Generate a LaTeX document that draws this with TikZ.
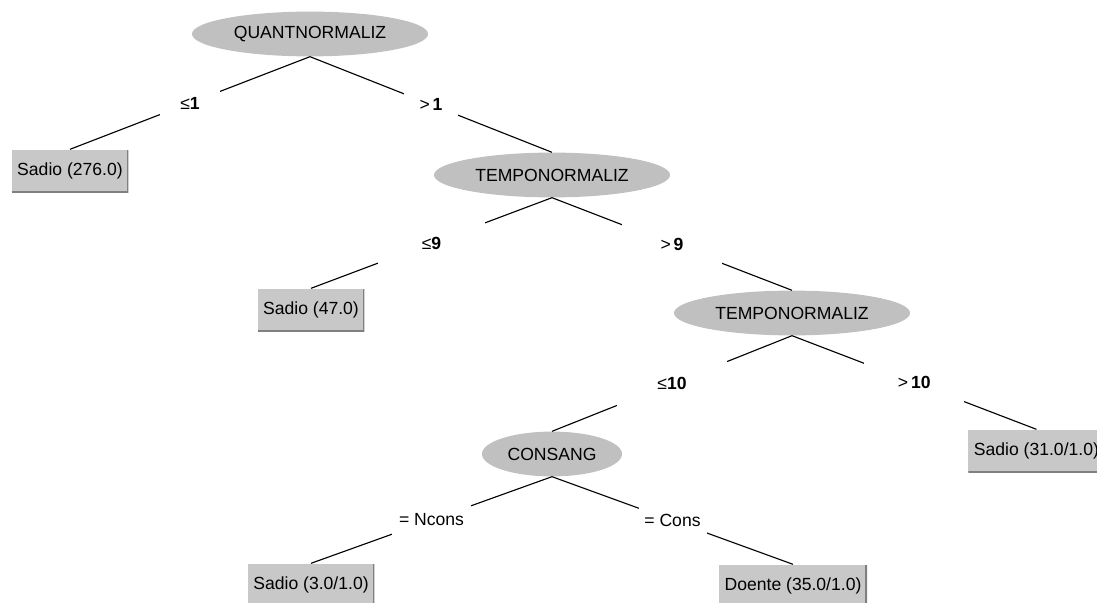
\documentclass[tikz,border=0pt]{standalone}
\usepackage{fontspec}
\setmainfont{Liberation Sans}
\usetikzlibrary{shapes.geometric}
\definecolor{splitgray}{RGB}{192,192,192}
\definecolor{leafgray}{RGB}{200,200,200}
\definecolor{bevelgray}{RGB}{128,128,128}
\newcommand{\treefont}{\fontsize{12.5}{15}\selectfont}

\begin{document}
\begin{tikzpicture}[x=0.025cm, y=-0.025cm,
  splitnode/.style={ellipse, fill=splitgray, inner sep=0pt, minimum width=5.9cm,
                    minimum height=1.12cm, font=\treefont},
  leafnode/.style={rectangle, fill=leafgray, inner xsep=0.14cm, minimum height=1.07cm,
                   font=\treefont,
                   path picture={\draw[bevelgray, line width=2.4pt]
                     (path picture bounding box.south west) -- (path picture bounding box.south east)
                     -- (path picture bounding box.north east);}},
  condlabel/.style={fill=white, inner sep=0pt, minimum height=1.1cm, font=\treefont},
  branch/.style={line width=0.8pt},
]
  \useasboundingbox (0,0) rectangle (1097,603);

  % Splits
  \node[splitnode] (quant) at (310,34) {QUANTNORMALIZ};
  \node[splitnode] (tempo) at (552,175) {TEMPONORMALIZ};
  \node[splitnode] (tempob) at (792,313) {TEMPONORMALIZ};
  \node[splitnode, minimum width=3.5cm] (consang) at (552,454) {CONSANG};

  % Leaves
  \node[leafnode] (sadioa) at (70,171) {Sadio (276.0)};
  \node[leafnode] (sadiob) at (311,310) {Sadio (47.0)};
  \node[leafnode, anchor=west] (sadioc) at (968,451) {Sadio (31.0/1.0)};
  \node[leafnode] (sadiod) at (311,585) {Sadio (3.0/1.0)};
  \node[leafnode] (doente) at (793,586) {Doente (35.0/1.0)};

  % Branches (last field: width of the gap round the label)
  \foreach \p/\c/\t/\g in {quant/sadioa/{≤\textbf{1}}/1.5, quant/tempo/{>\,\textbf{1}}/1.35,
                           tempo/sadiob/{≤\textbf{9}}/2.65, tempo/tempob/{>\,\textbf{9}}/2.5,
                           tempob/consang/{≤\textbf{10}}/2.75, tempob/sadioc/{>\,\textbf{10}}/2.5,
                           consang/sadiod/{= Ncons}/1.95, consang/doente/{= Cons}/1.7}
    \draw[branch] (\p.south) -- node[condlabel, minimum width=\g cm] {\t} (\c.north);
\end{tikzpicture}
\end{document}
